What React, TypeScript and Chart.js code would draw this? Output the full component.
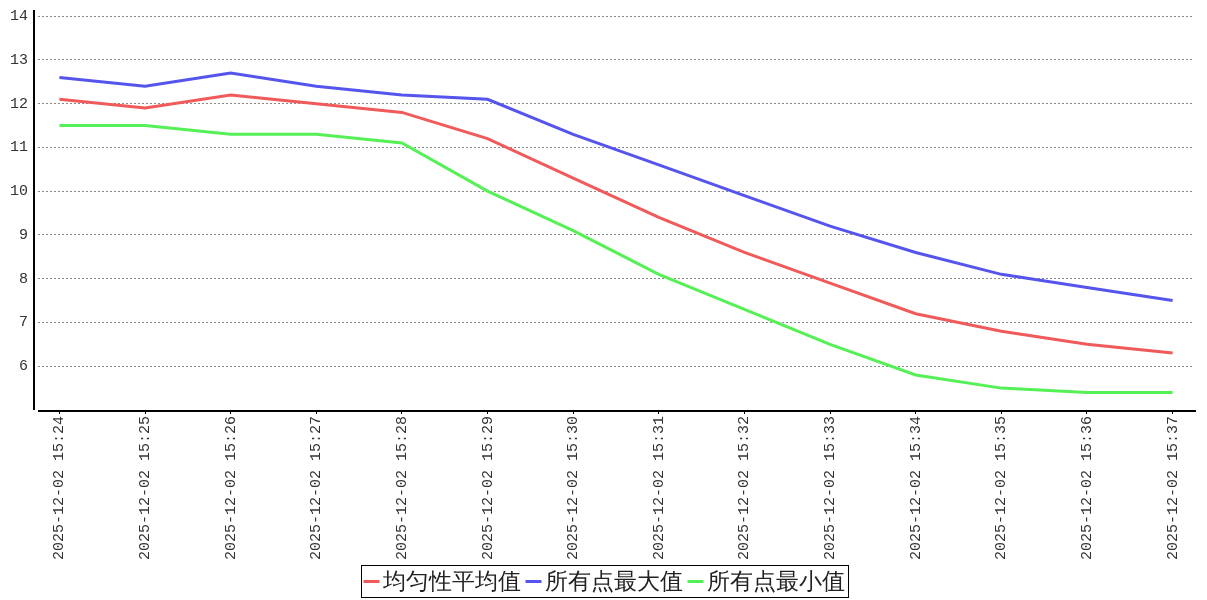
import React, { useEffect, useRef } from "react";
import { Chart, registerables } from "chart.js";

Chart.register(...registerables);

const timeLabels = [
  "2025-12-02 15:24", "2025-12-02 15:25", "2025-12-02 15:26", "2025-12-02 15:27",
  "2025-12-02 15:28", "2025-12-02 15:29", "2025-12-02 15:30", "2025-12-02 15:31",
  "2025-12-02 15:32", "2025-12-02 15:33", "2025-12-02 15:34", "2025-12-02 15:35",
  "2025-12-02 15:36", "2025-12-02 15:37",
];
const avgValues = [12.1, 11.9, 12.2, 12.0, 11.8, 11.2, 10.3, 9.4, 8.6, 7.9, 7.2, 6.8, 6.5, 6.3];
const maxValues = [12.6, 12.4, 12.7, 12.4, 12.2, 12.1, 11.3, 10.6, 9.9, 9.2, 8.6, 8.1, 7.8, 7.5];
const minValues = [11.5, 11.5, 11.3, 11.3, 11.1, 10.0, 9.1, 8.1, 7.3, 6.5, 5.8, 5.5, 5.4, 5.4];
const seriesNames = ["均匀性平均值", "所有点最大值", "所有点最小值"];
const seriesColors = ["#f05a5a", "#5555ee", "#55f055"];
const yTickValues = [6, 7, 8, 9, 10, 11, 12, 13, 14];

const TICK_FONT = "'Liberation Mono', monospace";

const axesPlugin = {
  id: "customAxes",
  afterDraw(chart: any) {
    const { ctx, chartArea } = chart;
    ctx.save();
    ctx.strokeStyle = "#000";
    ctx.lineWidth = 2;
    ctx.beginPath();
    ctx.moveTo(chartArea.left - 4, chartArea.top);
    ctx.lineTo(chartArea.left - 4, chartArea.bottom);
    ctx.stroke();
    ctx.beginPath();
    ctx.moveTo(chartArea.left, chartArea.bottom + 1);
    ctx.lineTo(chartArea.right + 2, chartArea.bottom + 1);
    ctx.stroke();

    // legend
    ctx.font = "23px serif";
    ctx.textBaseline = "middle";
    const lineW = 16;
    const g1 = 3;
    const g2 = 5;
    const widths = seriesNames.map((n) => ctx.measureText(n).width);
    let total = 3;
    widths.forEach((w, i) => {
      total += lineW + g1 + w + (i < widths.length - 1 ? g2 : 0);
    });
    total += 3;
    const cx = 604;
    const boxLeft = Math.round(cx - total / 2) + 0.5;
    const boxTop = 565.5;
    const boxH = 32;
    ctx.lineWidth = 1;
    ctx.strokeStyle = "#000";
    ctx.strokeRect(boxLeft, boxTop, total, boxH);
    let x = boxLeft + 2;
    const cy = boxTop + boxH / 2;
    seriesNames.forEach((n, i) => {
      ctx.strokeStyle = seriesColors[i];
      ctx.lineWidth = 3;
      ctx.beginPath();
      ctx.moveTo(x, cy);
      ctx.lineTo(x + lineW, cy);
      ctx.stroke();
      x += lineW + g1;
      ctx.fillStyle = "#222";
      ctx.fillText(n, x, cy + 1);
      x += widths[i] + g2;
    });
    ctx.restore();
  },
};

export default function App() {
  const ref = useRef<HTMLCanvasElement>(null);
  useEffect(() => {
    document.body.style.margin = "0";
    const toPts = (arr: number[]) => arr.map((v, i) => ({ x: i, y: v }));
    const chart = new Chart(ref.current!, {
      type: "line",
      data: {
        datasets: [avgValues, maxValues, minValues].map((arr, i) => ({
          label: seriesNames[i],
          data: toPts(arr),
          borderColor: seriesColors[i],
          backgroundColor: seriesColors[i],
          borderWidth: 3,
          pointRadius: 0,
          tension: 0,
        })),
      },
      options: {
        animation: false,
        responsive: false,
        layout: { padding: { top: 10, right: 13, left: 0, bottom: 0 } },
        plugins: { legend: { display: false }, tooltip: { enabled: false } },
        scales: {
          x: {
            type: "linear",
            min: -0.25,
            max: 13.25,
            afterBuildTicks(scale: any) {
              scale.ticks = timeLabels.map((_, i) => ({ value: i }));
            },
            afterFit(scale: any) {
              scale.height = 190;
              scale.paddingLeft = 0;
              scale.paddingRight = 0;
            },
            border: { display: false },
            grid: { drawOnChartArea: false, drawTicks: true, tickLength: 4, color: "#000" },
            ticks: {
              autoSkip: false,
              minRotation: 90,
              maxRotation: 90,
              padding: 2,
              color: "#333",
              font: { family: TICK_FONT, size: 15 },
              callback: (v: any) => timeLabels[v] ?? "",
            },
          },
          y: {
            type: "linear",
            min: 5,
            max: 14.14,
            afterBuildTicks(scale: any) {
              scale.ticks = yTickValues.map((v) => ({ value: v }));
            },
            afterFit(scale: any) {
              scale.width = 38;
              scale.paddingTop = 0;
              scale.paddingBottom = 0;
            },
            border: { display: false, dash: [2, 2] },
            grid: { drawTicks: false, color: "#888", lineWidth: 1 },
            ticks: {
              padding: 10,
              color: "#333",
              font: { family: TICK_FONT, size: 15 },
            },
          },
        },
      } as any,
      plugins: [axesPlugin],
    });
    return () => chart.destroy();
  }, []);
  return <canvas ref={ref} width={1207} height={600} style={{ display: "block" }} />;
}
